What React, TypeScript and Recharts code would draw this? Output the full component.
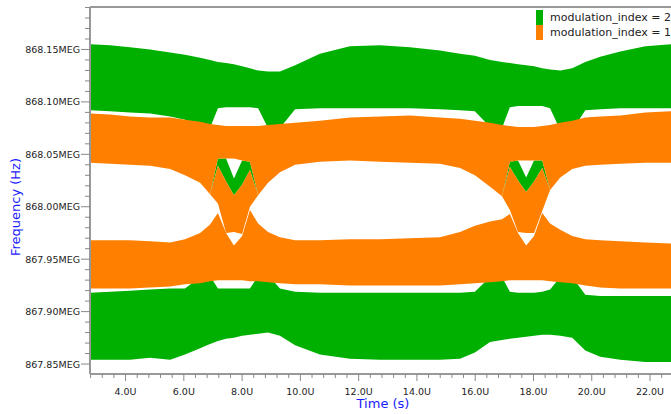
import React from "react";
import { ComposedChart, Area, XAxis, YAxis, ReferenceLine } from "recharts";

// eye diagram envelopes
// time in microseconds, frequency as deviation from the carrier in kHz
const CARRIER_MHZ = 868;

const timeUs = [
  2.78, 3.47, 4.15, 4.84, 5.53, 6.04, 6.56, 6.9, 7.17, 7.45, 7.72, 8.0, 8.27,
  8.55, 8.89, 9.3, 9.82, 10.67, 11.7, 12.73, 13.76, 14.79, 15.48, 15.99, 16.51,
  16.92, 17.19, 17.47, 17.75, 18.02, 18.3, 18.57, 18.92, 19.33, 19.78, 20.29,
  20.98, 21.84, 22.72,
];

// modulation_index = 2 (green)
const greenUpperHi = [155, 154, 152, 150, 147, 145, 142, 140, 138, 137, 136, 134, 132, 130, 129, 129, 135, 146, 153, 154, 152, 149, 146, 144, 140, 138, 137, 136, 135, 134, 132, 131, 130, 132, 138, 143, 148, 153, 155];
const greenUpperLo = [92, 91, 90, 89, 86, 83, 76, 75, 94, 95, 95, 95, 95, 94, 75, 75, 93, 94, 94, 94, 94, 93, 92, 91, 76, 75, 95, 96, 96, 96, 96, 94, 73, 73, 92, 93, 94, 94, 94];
const greenLowerHi = [-82, -81, -80, -79, -78, -78, -67, -66, -78, -78, -78, -78, -78, -66, -65, -78, -81, -82, -82, -82, -82, -82, -82, -81, -67, -67, -81, -82, -82, -82, -81, -79, -67, -67, -84, -85, -85, -85, -85];
const greenLowerLo = [-146, -146, -146, -144, -146, -141, -135, -131, -128, -126, -125, -123, -122, -121, -120, -123, -132, -141, -145, -146, -146, -146, -145, -139, -129, -127, -126, -125, -124, -123, -122, -122, -123, -125, -137, -143, -146, -148, -148];
const n7 = [null, null, null, null, null, null, null];
const n11 = [null, null, null, null, null, null, null, null, null, null, null];
const greenCrossHi = [...n7, 12, 46, 46, 27, 44, 43, 11, ...n11, 10, 43, 44, 28, 44, 44, 16, ...n7];
const greenCrossLo = [...n7, 12, 39, 24, 11, 21, 35, 11, ...n11, 10, 38, 25, 14, 24, 37, 16, ...n7];

// modulation_index = 1 (orange)
const orangeUpperHi = [89, 88, 86, 85, 85, 83, 81, 79, 78, 77, 77, 77, 77, 77, 78, 79, 80, 82, 85, 86, 87, 85, 84, 82, 80, 78, 77, 76, 76, 76, 77, 78, 80, 82, 85, 86, 87, 90, 91];
const orangeUpperLo = [42, 41, 40, 39, 36, 30, 23, 12, 46, 46, 46, 44, 43, 11, 23, 33, 40, 43, 44, 43, 42, 41, 37, 30, 19, 10, 43, 44, 44, 44, 44, 16, 28, 36, 39, 40, 41, 42, 42];
const orangeCrossHi = [...n7, 12, 39, 24, 11, 21, 35, 11, ...n11, 10, 38, 25, 14, 24, 37, 16, ...n7];
const orangeCrossLo = [...n7, 12, 3, -25, -24, -26, 0, 11, ...n11, 10, -3, -24, -25, -25, -4, 16, ...n7];
const orangeLowerHi = [-32, -32, -32, -33, -34, -31, -25, -17, -6, -25, -37, -28, -3, -16, -24, -29, -32, -32, -31, -31, -30, -29, -24, -18, -14, -12, -7, -25, -37, -28, -6, -16, -22, -28, -31, -32, -33, -34, -35];
const orangeLowerLo = [-78, -78, -78, -77, -76, -74, -73, -71, -70, -70, -70, -70, -71, -71, -72, -73, -74, -74, -75, -75, -75, -75, -74, -73, -72, -71, -70, -70, -70, -70, -70, -71, -72, -73, -75, -77, -78, -78, -78];

const legendLabels = ["modulation_index = 2", "modulation_index = 1"];

const majorTimeTicks = [4, 6, 8, 10, 12, 14, 16, 18, 20, 22];
const majorFreqTicks = [867.85, 867.9, 867.95, 868.0, 868.05, 868.1, 868.15];

const GREEN = "#00b000";
const ORANGE = "#ff8000";
const AXIS = "#999";
const FONT = "'DejaVu Sans', sans-serif";

const X_DOMAIN = [2.78, 22.72];
const Y_DOMAIN = [867.8405, 868.1905];

// minor ticks: 5 intervals between labelled ticks
const minorTime: number[] = [];
for (let i = 0; i < 50; i++) minorTime.push(Math.round((2.8 + 0.4 * i) * 10) / 10);
const minorFreq: number[] = [];
for (let i = 0; i < 35; i++) minorFreq.push(Math.round((867.85 + 0.01 * i) * 100) / 100);

const toMHz = (k: number) => CARRIER_MHZ + k / 1000;
const band = (lo: (number | null)[], hi: (number | null)[], i: number) =>
  lo[i] == null || hi[i] == null ? null : [toMHz(lo[i] as number), toMHz(hi[i] as number)];

const rows = timeUs.map((t, i) => ({
  t,
  gUpper: band(greenUpperLo, greenUpperHi, i),
  gLower: band(greenLowerLo, greenLowerHi, i),
  gCross: band(greenCrossLo, greenCrossHi, i),
  oUpper: band(orangeUpperLo, orangeUpperHi, i),
  oLower: band(orangeLowerLo, orangeLowerHi, i),
  oCross: band(orangeCrossLo, orangeCrossHi, i),
}));

const TimeTick = (props: any) => {
  const { x, y, payload } = props;
  const v = payload.value;
  const major = majorTimeTicks.some((m) => Math.abs(m - v) < 1e-6);
  return (
    <g>
      <line x1={x} x2={x} y1={y} y2={y + (major ? 7 : 4)} stroke="#888" />
      {major && (
        <text x={x} y={y + 21} textAnchor="middle" fontSize={9.5} fontFamily={FONT} fill="#222">
          {v.toFixed(1)}U
        </text>
      )}
    </g>
  );
};

const FreqTick = (props: any) => {
  const { x, y, payload } = props;
  const v = payload.value;
  const major = majorFreqTicks.some((m) => Math.abs(m - v) < 1e-6);
  return (
    <g>
      <line x1={x - (major ? 9 : 5)} x2={x} y1={y} y2={y} stroke="#888" />
      {major && (
        <text x={x - 10} y={y + 3.5} textAnchor="end" fontSize={9.5} fontFamily={FONT} fill="#222">
          {v.toFixed(2)}MEG
        </text>
      )}
    </g>
  );
};

const series = [
  { key: "gUpper", color: GREEN },
  { key: "gLower", color: GREEN },
  { key: "gCross", color: GREEN },
  { key: "oUpper", color: ORANGE },
  { key: "oLower", color: ORANGE },
  { key: "oCross", color: ORANGE },
];

export default function App() {
  return (
    <div
      style={{
        position: "absolute",
        left: 0,
        top: 0,
        width: 671,
        height: 414,
        overflow: "hidden",
        background: "#fff",
        fontFamily: FONT,
      }}
    >
      <ComposedChart width={671} height={414} data={rows} margin={{ top: 7, right: 0, bottom: 0, left: 0 }}>
        <XAxis
          type="number"
          dataKey="t"
          domain={X_DOMAIN}
          allowDataOverflow
          ticks={minorTime}
          interval={0}
          tick={TimeTick}
          tickLine={false}
          tickSize={0}
          tickMargin={0}
          height={40}
          axisLine={{ stroke: AXIS, strokeWidth: 2 }}
          label={{
            content: () => (
              <text x={383} y={408} textAnchor="middle" fontSize={13} fontFamily={FONT} fill="#1a1aff">
                Time (s)
              </text>
            ),
          }}
        />
        <YAxis
          type="number"
          domain={Y_DOMAIN}
          allowDataOverflow
          ticks={minorFreq}
          interval={0}
          tick={FreqTick}
          tickLine={false}
          tickSize={0}
          tickMargin={0}
          width={90}
          axisLine={{ stroke: AXIS, strokeWidth: 2 }}
          label={{
            content: () => (
              <text
                x={20}
                y={207}
                transform="rotate(-90, 20, 207)"
                textAnchor="middle"
                fontSize={13}
                fontFamily={FONT}
                fill="#1a1aff"
              >
                Frequency (Hz)
              </text>
            ),
          }}
        />
        {series.map((s) => (
          <Area
            key={s.key}
            type="linear"
            dataKey={s.key}
            stroke="none"
            fill={s.color}
            fillOpacity={1}
            dot={false}
            activeDot={false}
            isAnimationActive={false}
          />
        ))}
        <ReferenceLine y={Y_DOMAIN[1]} stroke={AXIS} strokeWidth={2} />
      </ComposedChart>
      {legendLabels.map((label, i) => (
        <div
          key={label}
          style={{
            position: "absolute",
            left: 536,
            top: 10 + i * 15,
            height: 15,
            display: "flex",
            alignItems: "center",
            whiteSpace: "nowrap",
            fontSize: 11,
            color: "#222",
          }}
        >
          <span style={{ width: 7, height: 15, background: i === 0 ? GREEN : ORANGE, marginRight: 7 }} />
          <span>{label}</span>
        </div>
      ))}
    </div>
  );
}
